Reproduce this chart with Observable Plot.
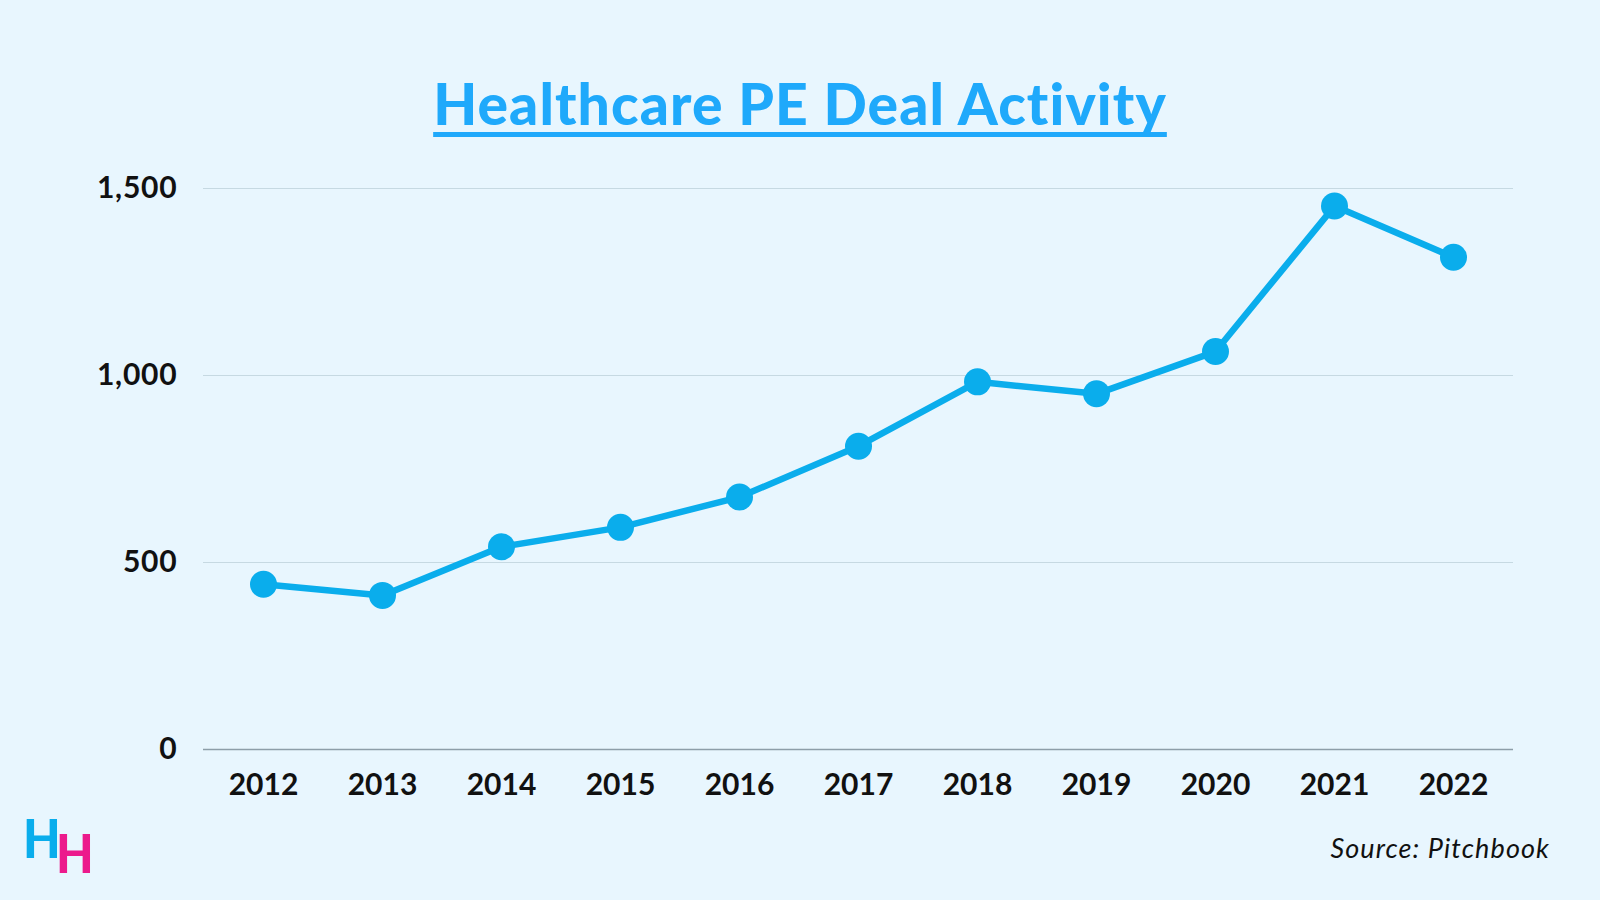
<!DOCTYPE html>
<html>
<head>
<meta charset="utf-8">
<script src="https://cdn.jsdelivr.net/npm/d3@7"></script>
<script src="https://cdn.jsdelivr.net/npm/@observablehq/plot@0.6"></script>
<style>
  html, body { margin: 0; padding: 0; }
  body { width: 1600px; height: 900px; background: #E8F6FE; position: relative; overflow: hidden; font-family: Lato, "Open Sans", sans-serif; }
  #title { position: absolute; left: 0; top: 75px; width: 1600px; text-align: center; font-size: 57px; line-height: 1; font-weight: 900; color: #1FA9FB; letter-spacing: 1.1px;
    text-decoration: underline; text-decoration-thickness: 5px; text-underline-offset: 7px; text-decoration-skip-ink: none; }
  #chart { position: absolute; left: 0; top: 160px; }
  #chart svg text { font-weight: 700; fill: #111; }
  #chart svg g[aria-label="y-axis tick label"] text { letter-spacing: 0.8px; }
  #source { position: absolute; right: 50px; top: 834px; font-size: 27px; line-height: 1; font-style: italic; color: #111; letter-spacing: 1.1px; }
  .logo { position: absolute; font-size: 53px; line-height: 1; font-weight: 900; transform: scaleX(0.92); transform-origin: left top; }
</style>
</head>
<body>
<div id="title">Healthcare PE Deal Activity</div>
<div id="chart"></div>
<div id="source">Source: Pitchbook</div>
<div class="logo" style="left:23px; top:811px; color:#0AADEC;">H</div>
<div class="logo" style="left:56px; top:826px; color:#EC1A8C;">H</div>
<script>
const years = ["2012", "2013", "2014", "2015", "2016", "2017", "2018", "2019", "2020", "2021", "2022"];
const deals = [442, 412, 542, 594, 675, 811, 983, 951, 1064, 1453, 1316];
const yTicks = [0, 500, 1000, 1500];

const data = years.map((year, i) => ({year, deals: deals[i]}));

const chart = Plot.plot({
  width: 1600,
  height: 660,
  marginTop: 28,
  marginBottom: 71,
  marginLeft: 203,
  marginRight: 87,
  style: {background: "transparent", fontFamily: "Lato, 'Open Sans', sans-serif", fontSize: "30px", color: "#111"},
  x: {type: "point", domain: years, padding: 0.5, label: null},
  y: {domain: [0, 1500], label: null},
  marks: [
    Plot.ruleY(yTicks.filter(d => d > 0), {stroke: "#c6d9e2", strokeWidth: 1}),
    Plot.ruleY([0], {stroke: "#8d9ea9", strokeWidth: 1.5}),
    Plot.axisY({ticks: yTicks, tickFormat: d3.format(","), tickSize: 0, tickPadding: 26, label: null}),
    Plot.axisX({tickSize: 0, tickPadding: 24, label: null}),
    Plot.line(data, {x: "year", y: "deals", stroke: "#0AADEC", strokeWidth: 6.5}),
    Plot.dot(data, {x: "year", y: "deals", r: 13.5, fill: "#0AADEC"})
  ]
});
document.getElementById("chart").appendChild(chart);
</script>
</body>
</html>
